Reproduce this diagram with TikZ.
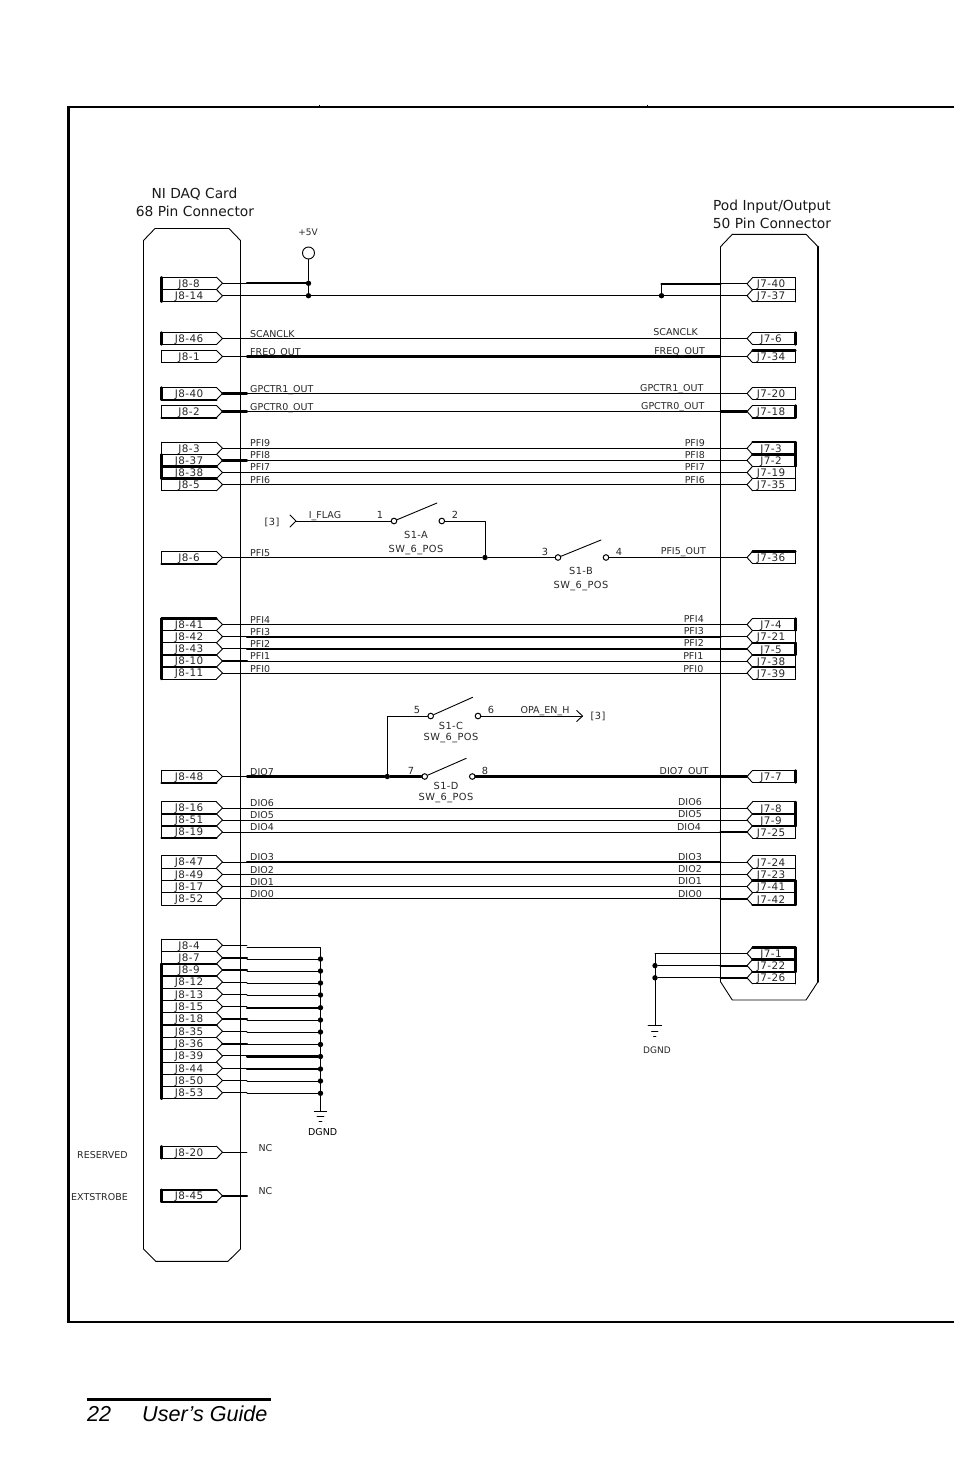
\documentclass[tikz,border=0pt]{standalone}
\usepackage{fontspec}
\setmainfont{DejaVu Sans}
\newfontfamily\guidefont{Liberation Sans}
\newfontfamily\widefont[LetterSpace=4]{DejaVu Sans}
\tikzset{
  tn/.style={line width=0.9pt,line cap=round,line join=round},
  tk/.style={line width=2.2pt,line cap=round,line join=round},
  txt/.style={inner sep=0pt,text height=7pt,text depth=0pt,text=black!85,font=\fontsize{9.5}{11}\selectfont},
  pintxt/.style={txt,font=\widefont\fontsize{10.4}{12}\selectfont},
  swtxt/.style={txt,font=\widefont\fontsize{9.8}{12}\selectfont},
  smalltxt/.style={txt,font=\fontsize{9.5}{11}\selectfont},
  title/.style={inner sep=0pt,text height=10pt,text depth=0pt,text=black!90,font=\fontsize{13.8}{16}\selectfont},
  jdot/.style={circle,fill=black,inner sep=0pt,minimum size=5.4pt},
  contact/.style={circle,draw=black,fill=white,line width=1pt,inner sep=0pt,minimum size=5.6pt},
  ring/.style={circle,draw=black,fill=white,line width=0.9pt,inner sep=0pt,minimum size=12pt},
  guide/.style={inner sep=0pt,anchor=base west,font=\guidefont\itshape\fontsize{21.6}{26}\selectfont},
}
% left pin: name, y, label, top, bottom, left styles
\newcommand{\lpin}[6]{%
  \coordinate (#1) at (222.5,#2);
  \coordinate (#1a) at (247,#2);
  \node[pintxt] (#1n) at (189,#2+0.4) {#3};
  \draw[tn] (216.5,#2-6.1) -- (#1) -- (216.5,#2+6.1);
  \draw[#4] (161.5,#2-6.1) -- (216.5,#2-6.1);
  \draw[#5] (161.5,#2+6.1) -- (216.5,#2+6.1);
  \draw[#6] (161.5,#2-6.1) -- (161.5,#2+6.1);
}
% right pin: name, y, label, top, bottom, right styles
\newcommand{\rpin}[6]{%
  \coordinate (#1) at (747,#2);
  \coordinate (#1a) at (720.5,#2);
  \node[pintxt] (#1n) at (771,#2+0.6) {#3};
  \draw[tn] (752.5,#2-6.1) -- (#1) -- (752.5,#2+6.1);
  \draw[#4] (752.5,#2-6.1) -- (795.5,#2-6.1);
  \draw[#5] (752.5,#2+6.1) -- (795.5,#2+6.1);
  \draw[#6] (795.5,#2-6.1) -- (795.5,#2+6.1);
}
% wire between two pins, three segment styles
\newcommand{\wire}[5]{%
  \draw[#3] (#1) -- (#1a);
  \draw[#4] (#1a) -- (#2a);
  \draw[#5] (#2a) -- (#2);
}
\newcommand{\ltxt}[3]{\node[txt,anchor=west] (lt#1) at (250,#2) {#3};}
\newcommand{\rtxt}[4]{\node[txt,anchor=east] (rt#1) at (#2,#3) {#4};}
% DGND pin stub and bus run on the left
\newcommand{\gnw}[4]{%
  \coordinate (#1b) at (247,#2);
  \node[jdot] (#1d) at (320.5,#2) {};
  \draw[#3] (#1) -- (#1a);
  \draw[#4] (#1b) -- (#1d);
}
\begin{document}
\begin{tikzpicture}[x=1pt,y=-1pt]
\useasboundingbox (0,0) rectangle (954,1475);

% page frame
\draw[line width=2.6pt] (954,107) -- (68.5,107) -- (68.5,1322) -- (954,1322);
\draw[line width=0.8pt] (319.5,104.5) -- (319.5,106);
\draw[line width=0.8pt] (647,104.5) -- (647,106);

% footer
\draw[line width=3pt] (87,1399) -- (271,1399);
\node[guide] (pgn) at (87,1421) {22};
\node[guide] (pgt) at (142,1421) {User’s Guide};

% connector bodies
\draw[tn] (155,228.5) -- (229,228.5) -- (240.5,240.5) -- (240.5,1249) -- (228,1261.3) -- (155.7,1261.3) -- (143.5,1249) -- (143.5,240.5) -- cycle;
\draw[tn] (732.3,234.3) -- (806,234.3) -- (818,246.7);
\draw[tk] (818,246.7) -- (818,981.7);
\draw[tn] (818,981.7) -- (806,1000) -- (732.3,1000) -- (720.5,981.7) -- (720.5,246.7) -- (732.3,234.3);

% titles
\node[title] (t1) at (194.5,193.5) {NI DAQ Card};
\node[title] (t2) at (195,211) {68 Pin Connector};
\node[title] (t3) at (772,205.5) {Pod Input/Output};
\node[title] (t4) at (772,223) {50 Pin Connector};

% left pins
\lpin{La}{283.3}{J8-8}{tn}{tn}{tk}
\lpin{Lb}{295.7}{J8-14}{tn}{tn}{tk}
\lpin{Lc}{338.5}{J8-46}{tn}{tn}{tk}
\lpin{Ld}{356.5}{J8-1}{tn}{tn}{tn}
\lpin{Le}{393.5}{J8-40}{tn}{tk}{tk}
\lpin{Lf}{411.5}{J8-2}{tn}{tk}{tn}
\lpin{Lg}{448.3}{J8-3}{tn}{tn}{tn}
\lpin{Lh}{460.4}{J8-37}{tn}{tk}{tk}
\lpin{Li}{472.5}{J8-38}{tk}{tk}{tk}
\lpin{Lj}{484.6}{J8-5}{tk}{tn}{tn}
\lpin{Lk}{557.5}{J8-6}{tn}{tk}{tn}
\lpin{Ll}{624.5}{J8-41}{tk}{tn}{tk}
\lpin{Lm}{636.6}{J8-42}{tn}{tn}{tk}
\lpin{Ln}{648.9}{J8-43}{tn}{tn}{tk}
\lpin{Lo}{661}{J8-10}{tn}{tn}{tk}
\lpin{Lp}{673}{J8-11}{tn}{tn}{tk}
\lpin{Lq}{776.5}{J8-48}{tn}{tk}{tn}
\lpin{Lr}{808}{J8-16}{tn}{tn}{tn}
\lpin{Ls}{820}{J8-51}{tn}{tn}{tn}
\lpin{Lt}{832}{J8-19}{tn}{tk}{tn}
\lpin{Lu}{862}{J8-47}{tn}{tn}{tn}
\lpin{Lv}{874.5}{J8-49}{tn}{tn}{tn}
\lpin{Lw}{886.6}{J8-17}{tn}{tn}{tn}
\lpin{Lx}{898.9}{J8-52}{tn}{tn}{tn}
% DGND group
\lpin{Ga}{945.3}{J8-4}{tn}{tn}{tn}
\lpin{Gb}{957.7}{J8-7}{tn}{tk}{tn}
\lpin{Gc}{969.9}{J8-9}{tk}{tk}{tk}
\lpin{Gd}{982}{J8-12}{tk}{tn}{tk}
\lpin{Ge}{994.2}{J8-13}{tn}{tn}{tk}
\lpin{Gf}{1006.6}{J8-15}{tn}{tn}{tk}
\lpin{Gg}{1018.9}{J8-18}{tn}{tk}{tk}
\lpin{Gh}{1031.2}{J8-35}{tk}{tn}{tk}
\lpin{Gi}{1043.6}{J8-36}{tn}{tn}{tk}
\lpin{Gj}{1055.9}{J8-39}{tn}{tn}{tk}
\lpin{Gk}{1068.2}{J8-44}{tn}{tn}{tk}
\lpin{Gl}{1080.5}{J8-50}{tn}{tn}{tk}
\lpin{Gm}{1092.8}{J8-53}{tn}{tn}{tk}
\lpin{Na}{1152.3}{J8-20}{tn}{tn}{tk}
\lpin{Nb}{1195.7}{J8-45}{tk}{tk}{tk}

% right pins
\rpin{Ra}{283.8}{J7-40}{tn}{tn}{tn}
\rpin{Rb}{295.7}{J7-37}{tn}{tn}{tn}
\rpin{Rc}{338.5}{J7-6}{tn}{tn}{tk}
\rpin{Rd}{356.5}{J7-34}{tk}{tn}{tn}
\rpin{Re}{393.5}{J7-20}{tn}{tn}{tn}
\rpin{Rf}{411.5}{J7-18}{tn}{tk}{tk}
\rpin{Rg}{448.3}{J7-3}{tk}{tk}{tk}
\rpin{Rh}{460.4}{J7-2}{tk}{tn}{tk}
\rpin{Ri}{472.5}{J7-19}{tn}{tn}{tn}
\rpin{Rj}{484.6}{J7-35}{tn}{tn}{tn}
\rpin{Rk}{557.5}{J7-36}{tk}{tn}{tn}
\rpin{Rl}{624.5}{J7-4}{tn}{tn}{tk}
\rpin{Rm}{636.6}{J7-21}{tn}{tk}{tn}
\rpin{Rn}{648.9}{J7-5}{tk}{tn}{tk}
\rpin{Ro}{661}{J7-38}{tn}{tn}{tn}
\rpin{Rp}{673}{J7-39}{tn}{tn}{tn}
\rpin{Rq}{776.5}{J7-7}{tn}{tn}{tk}
\rpin{Rr}{808}{J7-8}{tn}{tn}{tk}
\rpin{Rs}{820}{J7-9}{tn}{tk}{tk}
\rpin{Rt}{832}{J7-25}{tk}{tn}{tn}
\rpin{Ru}{862}{J7-24}{tn}{tn}{tn}
\rpin{Rv}{874.5}{J7-23}{tn}{tk}{tn}
\rpin{Rw}{886.6}{J7-41}{tk}{tn}{tk}
\rpin{Rx}{898.9}{J7-42}{tn}{tk}{tk}
\rpin{Ry}{953.5}{J7-1}{tk}{tk}{tk}
\rpin{Rz}{965.6}{J7-22}{tk}{tk}{tk}
\rpin{RA}{977.8}{J7-26}{tk}{tn}{tn}

% +5V
\node[txt,font=\fontsize{9}{11}\selectfont] (vcc) at (308,232) {+5V};
\node[ring] (vr) at (308.5,253) {};
\node[jdot] (v1) at (308.5,283.3) {};
\node[jdot] (v2) at (308.5,295.7) {};
\node[jdot] (v3) at (661.5,295.7) {};
\coordinate (v4) at (661.5,283.8);
\draw[tn] (vr) -- (v1) -- (v2);
\draw[tn] (La) -- (Laa);
\draw[tk] (Laa) -- (v1);
\wire{Lb}{Rb}{tn}{tn}{tn}
\draw[tn] (v3) -- (v4);
\draw[tk] (v4) -- (Raa);
\draw[tn] (Raa) -- (Ra);

% through wires
\wire{Lc}{Rc}{tn}{tn}{tn}
\wire{Ld}{Rd}{tn}{tk}{tn}
\wire{Le}{Re}{tk}{tn}{tn}
\wire{Lf}{Rf}{tk}{tn}{tk}
\wire{Lg}{Rg}{tn}{tn}{tn}
\wire{Lh}{Rh}{tk}{tn}{tn}
\wire{Li}{Ri}{tn}{tn}{tn}
\wire{Lj}{Rj}{tn}{tn}{tn}
\wire{Ll}{Rl}{tn}{tn}{tn}
\wire{Lm}{Rm}{tn}{tk}{tn}
\wire{Ln}{Rn}{tn}{tk}{tk}
\wire{Lo}{Ro}{tk}{tn}{tn}
\wire{Lp}{Rp}{tn}{tn}{tn}
\wire{Lr}{Rr}{tn}{tn}{tn}
\wire{Ls}{Rs}{tn}{tn}{tn}
\wire{Lt}{Rt}{tn}{tn}{tk}
\wire{Lu}{Ru}{tn}{tk}{tn}
\wire{Lv}{Rv}{tn}{tn}{tn}
\wire{Lw}{Rw}{tn}{tn}{tn}
\wire{Lx}{Rx}{tn}{tn}{tk}

% wire labels
\ltxt{1}{333.5}{SCANCLK}       \rtxt{1}{698}{331.5}{SCANCLK}
\ltxt{2}{351.5}{FREQ\_OUT}     \rtxt{2}{705}{350.5}{FREQ\_OUT}
\ltxt{3}{388.5}{GPCTR1\_OUT}   \rtxt{3}{703.5}{387.5}{GPCTR1\_OUT}
\ltxt{4}{406.5}{GPCTR0\_OUT}   \rtxt{4}{704.5}{405.5}{GPCTR0\_OUT}
\ltxt{5}{442.5}{PFI9}          \rtxt{5}{705}{442.5}{PFI9}
\ltxt{6}{455}{PFI8}            \rtxt{6}{705}{454.5}{PFI8}
\ltxt{7}{467}{PFI7}            \rtxt{7}{705}{467}{PFI7}
\ltxt{8}{479.5}{PFI6}          \rtxt{8}{705}{479.5}{PFI6}
\ltxt{9}{552.5}{PFI5}          \rtxt{9}{706}{550.5}{PFI5\_OUT}
\ltxt{10}{619.5}{PFI4}         \rtxt{10}{704}{618.5}{PFI4}
\ltxt{11}{631.5}{PFI3}         \rtxt{11}{704}{630.5}{PFI3}
\ltxt{12}{643.5}{PFI2}         \rtxt{12}{704}{643}{PFI2}
\ltxt{13}{655.5}{PFI1}         \rtxt{13}{703.5}{655.5}{PFI1}
\ltxt{14}{668.5}{PFI0}         \rtxt{14}{703.5}{668.5}{PFI0}
\ltxt{15}{771.5}{DIO7}         \rtxt{15}{708.5}{770.5}{DIO7\_OUT}
\ltxt{16}{802.5}{DIO6}         \rtxt{16}{702}{801.5}{DIO6}
\ltxt{17}{814.5}{DIO5}         \rtxt{17}{702}{813.5}{DIO5}
\ltxt{18}{826.5}{DIO4}         \rtxt{18}{701}{826.5}{DIO4}
\ltxt{19}{856.5}{DIO3}         \rtxt{19}{702}{856.5}{DIO3}
\ltxt{20}{869.5}{DIO2}         \rtxt{20}{702}{868.5}{DIO2}
\ltxt{21}{881.5}{DIO1}         \rtxt{21}{702}{880.5}{DIO1}
\ltxt{22}{893.5}{DIO0}         \rtxt{22}{702}{893.5}{DIO0}

% switch S1-A, S1-B
\coordinate (ifa) at (290,515);
\coordinate (ifb) at (296,521);
\coordinate (ifc) at (290,527);
\node[contact] (c1) at (394,521) {};
\node[contact] (c2) at (441.8,521) {};
\node[jdot] (j1) at (485,557.5) {};
\coordinate (c2j) at (485,521);
\node[contact] (c3) at (558,557.5) {};
\node[contact] (c4) at (606,557.5) {};
\coordinate (la) at (437,503);
\coordinate (lb) at (601,540);
\draw[tn] (ifa) -- (ifb) -- (ifc);
\draw[tn] (ifb) -- (c1);
\draw[tn] (c1) -- (la);
\draw[tn] (c2) -- (c2j) -- (j1);
\draw[tn] (Lk) -- (Lka);
\draw[tn] (Lka) -- (j1) -- (c3);
\draw[tn] (c3) -- (lb);
\draw[tn] (c4) -- (Rka);
\draw[tn] (Rka) -- (Rk);
\node[swtxt] (p3a) at (272,522) {[3]};
\node[txt] (nif) at (325,515) {I\_FLAG};
\node[swtxt] (n1) at (380,515) {1};
\node[swtxt] (n2) at (455,515) {2};
\node[swtxt] (sa) at (416,535) {S1-A};
\node[swtxt] (sap) at (416,549) {SW\_6\_POS};
\node[swtxt] (n3) at (545,552) {3};
\node[swtxt] (n4) at (619,552) {4};
\node[swtxt] (sb) at (581,571) {S1-B};
\node[swtxt] (sbp) at (581,585) {SW\_6\_POS};

% switch S1-C, S1-D
\node[jdot] (j2) at (387.3,776.5) {};
\coordinate (j2u) at (387.3,716);
\node[contact] (c5) at (430.7,716) {};
\node[contact] (c6) at (478,716) {};
\coordinate (lc) at (472.7,697.3);
\coordinate (opa) at (576.7,710.5);
\coordinate (opb) at (582.5,716);
\coordinate (opc) at (576.7,721.5);
\node[contact] (c7) at (424.7,776.5) {};
\node[contact] (c8) at (472.3,776.5) {};
\coordinate (ld) at (466.3,758.3);
\draw[tn] (j2) -- (j2u) -- (c5);
\draw[tn] (c5) -- (lc);
\draw[tn] (c6) -- (opb);
\draw[tn] (opa) -- (opb) -- (opc);
\draw[tn] (c7) -- (ld);
\draw[tn] (Lq) -- (Lqa);
\draw[tk] (Lqa) -- (j2) -- (c7);
\draw[tk] (c8) -- (Rqa) -- (Rq);
\node[swtxt] (n5) at (417,710) {5};
\node[swtxt] (n6) at (491,710) {6};
\node[swtxt] (sc) at (451,726) {S1-C};
\node[swtxt] (scp) at (451,737) {SW\_6\_POS};
\node[txt] (nopa) at (545,710) {OPA\_EN\_H};
\node[swtxt] (p3b) at (598,716) {[3]};
\node[swtxt] (n7) at (411,771) {7};
\node[swtxt] (n8) at (485,771) {8};
\node[swtxt] (sd) at (446,786) {S1-D};
\node[swtxt] (sdp) at (446,797) {SW\_6\_POS};

% left DGND bus
\coordinate (gat) at (320.5,947);
\coordinate (gab) at (247,947);
\coordinate (gg1) at (320.5,1111);
\gnw{Gb}{959}{tk}{tn}
\gnw{Gc}{971}{tk}{tn}
\gnw{Gd}{983}{tn}{tn}
\gnw{Ge}{995}{tn}{tn}
\gnw{Gf}{1007.7}{tn}{tk}
\gnw{Gg}{1020}{tk}{tn}
\gnw{Gh}{1032}{tn}{tn}
\gnw{Gi}{1044.5}{tk}{tn}
\gnw{Gj}{1056.5}{tn}{tk}
\gnw{Gk}{1069}{tn}{tk}
\gnw{Gl}{1081}{tn}{tn}
\gnw{Gm}{1093.3}{tn}{tn}
\draw[tn] (Ga) -- (Gaa);
\draw[tn] (gab) -- (gat) -- (gg1);
\draw[tn] (314.3,1111) -- (326.7,1111);
\draw[tn] (317,1116) -- (324,1116);
\draw[tn] (319,1121) -- (322,1121);
\node[smalltxt,text=black] (dg1) at (322.7,1132) {DGND};

% right DGND bus
\coordinate (gt) at (655,953.5);
\node[jdot] (gd1) at (655,965.6) {};
\node[jdot] (gd2) at (655,977.8) {};
\coordinate (gg2) at (655,1025.7);
\draw[tn] (gt) -- (gg2);
\draw[tn] (gt) -- (Rya);
\draw[tn] (Rya) -- (Ry);
\draw[tn] (gd1) -- (Rza);
\draw[tk] (Rza) -- (Rz);
\draw[tn] (gd2) -- (RAa);
\draw[tk] (RAa) -- (RA);
\draw[tn] (648,1025.7) -- (661.7,1025.7);
\draw[tn] (651.5,1031) -- (658,1031);
\draw[tn] (653.5,1036) -- (656,1036);
\node[txt,font=\fontsize{9}{11}\selectfont] (dg2) at (657,1050) {DGND};

% not connected pins and their labels
\draw[tn] (Na) -- (Naa);
\draw[tk] (Nb) -- (Nba);
\node[smalltxt] (nc1) at (265.5,1148) {NC};
\node[smalltxt] (nc2) at (265.5,1191) {NC};
\node[smalltxt] (res) at (102.5,1155) {RESERVED};
\node[smalltxt] (ext) at (99.5,1197) {EXTSTROBE};
\end{tikzpicture}
\end{document}
